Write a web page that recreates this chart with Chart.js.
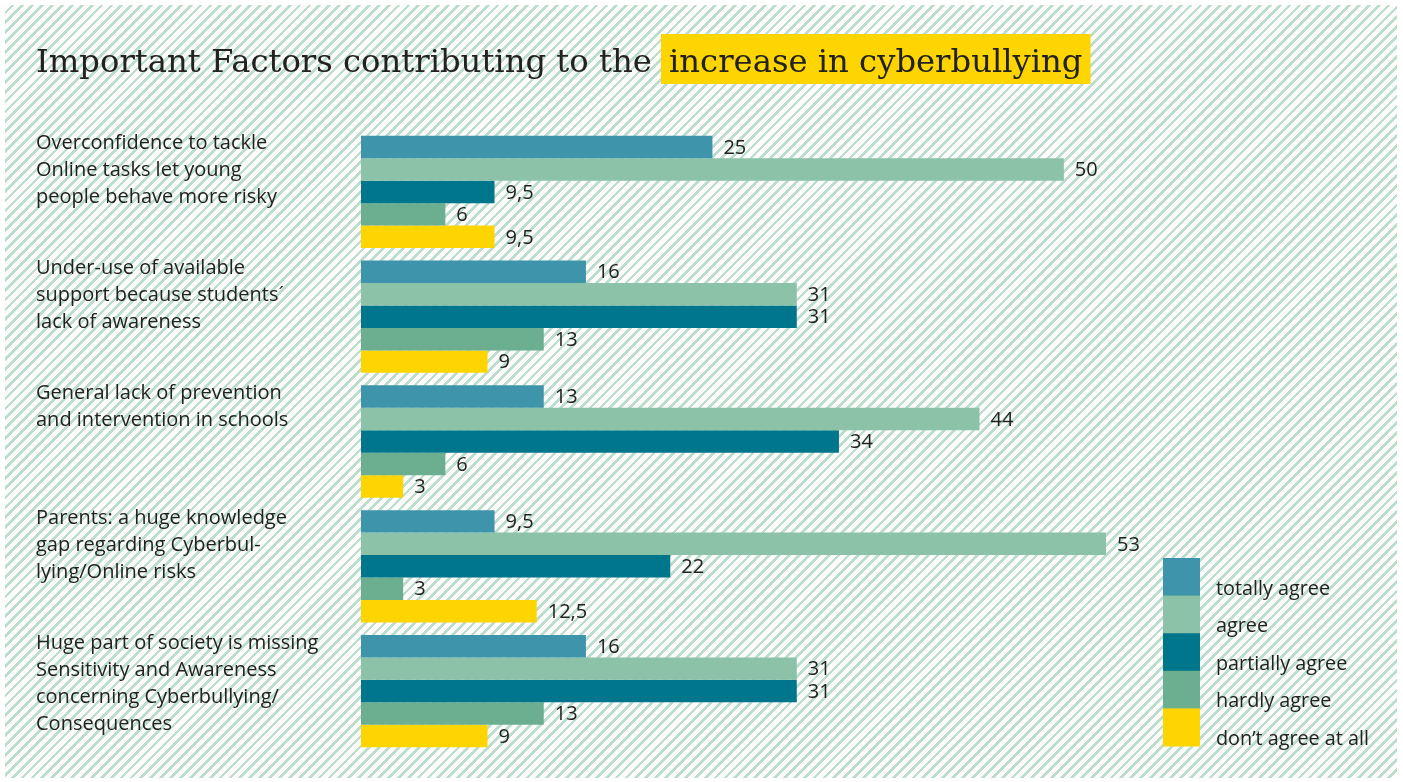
<!DOCTYPE html>
<html>
<head>
<meta charset="utf-8">
<script src="https://cdn.jsdelivr.net/npm/chart.js@4"></script>
<style>
  html, body { margin: 0; padding: 0; background: #ffffff; }
  #wrap { position: absolute; left: 0; top: 0; width: 1403px; height: 782px; }
  #bg { position: absolute; left: 5px; top: 5px; width: 1392px; height: 773px;
        background: repeating-linear-gradient(135deg, #fcfdfc 0px, #fcfdfc 4.3px, #bddecd 4.3px, #bddecd 7.0px); }
  canvas { position: absolute; left: 0; top: 0; }
</style>
</head>
<body>
<div id="wrap">
  <div id="bg"></div>
  <canvas id="c" width="1403" height="782"></canvas>
</div>
<script>
const titlePlain = "Important Factors contributing to the";
const titleHighlight = "increase in cyberbullying";

const categories = [
  ["Overconfidence to tackle", "Online tasks let young", "people behave more risky"],
  ["Under-use of available", "support because students´", "lack of awareness"],
  ["General lack of prevention", "and intervention in schools"],
  ["Parents: a huge knowledge", "gap regarding Cyberbul-", "lying/Online risks"],
  ["Huge part of society is missing", "Sensitivity and Awareness", "concerning Cyberbullying/", "Consequences"]
];

const seriesNames = ["totally agree", "agree", "partially agree", "hardly agree", "don\u2019t agree at all"];
const totallyAgree   = [25, 16, 13, 9.5, 16];
const agree          = [50, 31, 44, 53, 31];
const partiallyAgree = [9.5, 31, 34, 22, 31];
const hardlyAgree    = [6, 13, 6, 3, 13];
const dontAgree      = [9.5, 9, 3, 12.5, 9];
const seriesColors = ["#3e94aa", "#8cc3a8", "#00768c", "#6bae90", "#ffd500"];

const seriesValues = [totallyAgree, agree, partiallyAgree, hardlyAgree, dontAgree];

const bodyFont = "'Open Sans', Lato, sans-serif";
const titleFont = "'DejaVu Serif', serif";
const textColor = "#222222";

const labelsPlugin = {
  id: 'customText',
  afterDatasetsDraw(chart) {
    const ctx = chart.ctx;
    const yScale = chart.scales.y;
    ctx.save();
    // value labels
    ctx.font = "20px " + bodyFont;
    ctx.fillStyle = textColor;
    ctx.textBaseline = "middle";
    ctx.textAlign = "left";
    chart.data.datasets.forEach((ds, di) => {
      const meta = chart.getDatasetMeta(di);
      meta.data.forEach((bar, i) => {
        const v = ds.data[i];
        ctx.fillText(String(v).replace('.', ','), bar.x + 11, bar.y + 1);
      });
    });
    // category labels (top aligned to group)
    ctx.font = "20px " + bodyFont;
    const step = (yScale.getPixelForValue(1) - yScale.getPixelForValue(0));
    categories.forEach((lines, i) => {
      const top = yScale.getPixelForValue(i) - step * 0.45;
      lines.forEach((ln, k) => {
        ctx.fillText(ln, 36, top + 8 + k * 27);
      });
    });
    // legend
    const lx = 1163, ly = 558, lw = 37, lh = 37.6;
    ctx.font = "19.8px " + bodyFont;
    chart.data.datasets.forEach((ds, di) => {
      ctx.fillStyle = ds.backgroundColor;
      ctx.fillRect(lx, ly + di * lh, lw, lh + 0.5);
      ctx.fillStyle = textColor;
      ctx.fillText(ds.label, 1216, ly + di * lh + 31);
    });
    // title: fit plain part to its width in the reference
    ctx.textBaseline = "alphabetic";
    ctx.font = "100px " + titleFont;
    const fs = Math.min(36, 100 * 616 / ctx.measureText(titlePlain).width);
    ctx.font = fs.toFixed(2) + "px " + titleFont;
    const tx2 = 669;
    const w2 = ctx.measureText(titleHighlight).width;
    ctx.fillStyle = "#ffd500";
    ctx.fillRect(tx2 - 8, 34, w2 + 16, 50);
    ctx.fillStyle = textColor;
    ctx.fillText(titlePlain, 36, 72);
    ctx.fillText(titleHighlight, tx2, 72);
    ctx.restore();
  }
};

new Chart(document.getElementById('c'), {
  type: 'bar',
  data: {
    labels: categories.map(c => c.join(' ')),
    datasets: seriesNames.map((n, i) => ({
      label: n,
      data: seriesValues[i],
      backgroundColor: seriesColors[i],
      borderWidth: 0,
      categoryPercentage: 0.9,
      barPercentage: 1.0
    }))
  },
  options: {
    indexAxis: 'y',
    responsive: false,
    animation: false,
    events: [],
    layout: { padding: { left: 361, right: 58, top: 129.5, bottom: 28.5 } },
    plugins: { legend: { display: false }, tooltip: { enabled: false }, title: { display: false } },
    scales: {
      x: { display: false, min: 0, max: 70 },
      y: { display: false }
    }
  },
  plugins: [labelsPlugin]
});
</script>
</body>
</html>
